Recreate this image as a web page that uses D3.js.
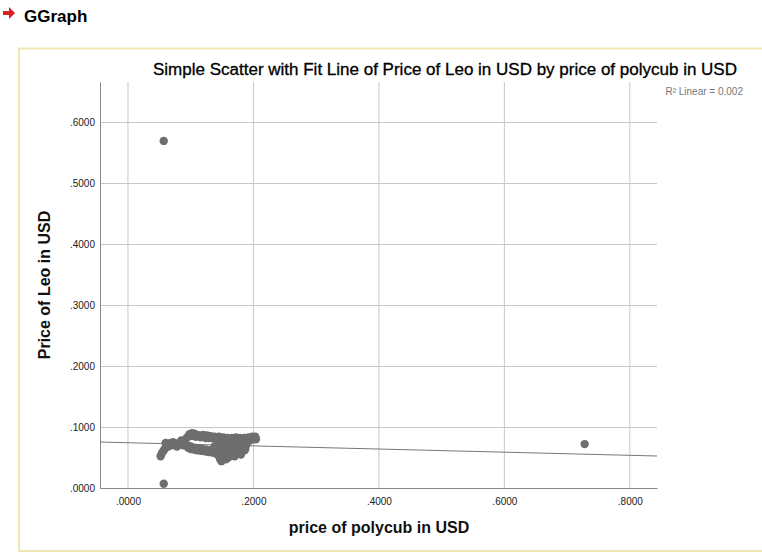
<!DOCTYPE html>
<html><head><meta charset="utf-8">
<script src="https://cdn.jsdelivr.net/npm/d3@7"></script>
<style>body{margin:0;background:#fff;}svg{display:block;font-family:"Liberation Sans",Arial,sans-serif;}</style>
</head><body><svg id="c" width="762" height="556"></svg>
<script>
const xTicks = [0, 0.2, 0.4, 0.6, 0.8];
const yTicks = [0, 0.1, 0.2, 0.3, 0.4, 0.5, 0.6];
const polycubPrice = [0.052,0.054,0.056,0.058,0.060,0.062,0.060,0.065,0.068,0.072,0.076,0.080,0.084,0.088,
 0.090,0.094,0.098,0.102,0.106,0.110,0.115,0.120,0.126,0.132,0.138,0.145,0.152,0.158,0.165,0.172,0.178,0.185,0.192,0.198,0.202,0.200,
 0.092,0.096,0.100,0.105,0.110,0.116,0.122,0.128,0.134,0.140,0.145,0.147,0.149,
 0.150,0.152,0.155,0.155,0.158,0.160,0.162,0.163,0.165,0.166,0.168,0.170,0.171,0.173,0.175,0.176,0.178,0.180,0.182,0.184,0.186,0.188,0.190,0.194,0.148,0.150,0.146,0.144,0.140,0.138,
 0.150,0.155,0.157,0.160,0.162,0.164,0.167,0.169,0.172,0.174,0.177,0.179,0.181,0.183,0.185,0.187,0.189,0.153,0.156,0.151,0.148,0.143,0.141,0.136,
 0.095,0.100,0.106,0.112,0.118,0.124,0.130,0.136,
 0.100,0.108,0.116,0.124,0.130,0.136,0.143,
 0.070,0.078,0.085,0.064,0.203,0.204,
 0.057,0.057,0.728];
const leoPrice = [0.052,0.057,0.060,0.063,0.066,0.070,0.074,0.072,0.074,0.075,0.073,0.072,0.074,0.070,
 0.078,0.083,0.088,0.090,0.089,0.087,0.086,0.087,0.086,0.085,0.084,0.084,0.083,0.082,0.082,0.083,0.082,0.082,0.083,0.084,0.082,0.080,
 0.070,0.066,0.064,0.063,0.062,0.061,0.060,0.059,0.058,0.057,0.052,0.047,0.044,
 0.060,0.065,0.070,0.075,0.055,0.050,0.062,0.068,0.078,0.072,0.058,0.052,0.065,0.075,0.080,0.060,0.070,0.055,0.066,0.074,0.062,0.070,0.075,0.078,0.070,0.078,0.064,0.058,0.062,0.068,
 0.082,0.058,0.066,0.074,0.080,0.056,0.064,0.070,0.058,0.068,0.076,0.062,0.072,0.078,0.068,0.064,0.072,0.050,0.047,0.055,0.060,0.068,0.056,0.060,
 0.070,0.068,0.066,0.065,0.064,0.063,0.062,0.062,
 0.085,0.084,0.083,0.082,0.082,0.081,0.080,
 0.070,0.068,0.078,0.068,0.084,0.080,
 0.569,0.007,0.072];
const fitIntercept = 0.0742;
const fitSlope = -0.0258;
const rSquared = "0.002";

const svg = d3.select("#c");
const x = d3.scaleLinear().domain([-0.0446, 0.8433]).range([100, 657]);
const y = d3.scaleLinear().domain([0, 0.6656]).range([488, 82]);
const fmt = v => d3.format(".4f")(v).replace(/^0/, "");

// frame
svg.append("rect").attr("x",19).attr("y",48.5).attr("width",760).attr("height",502.5)
  .attr("fill","none").attr("stroke","#f0e6b4").attr("stroke-width",2);

// header
svg.append("path").attr("d","M3,11 L9,11 L9,7 L15,13 L9,19 L9,15 L3,15 Z").attr("fill","#d81e1e");
svg.append("text").attr("x",24).attr("y",22).attr("font-size",17).attr("font-weight","bold").attr("fill","#000").text("GGraph");

// gridlines
svg.append("g").selectAll("line").data(xTicks).join("line")
  .attr("x1",d=>x(d)).attr("x2",d=>x(d)).attr("y1",82).attr("y2",488).attr("stroke","#c8c8c8");
svg.append("g").selectAll("line").data(yTicks).join("line")
  .attr("y1",d=>Math.round(y(d))+0.5).attr("y2",d=>Math.round(y(d))+0.5).attr("x1",100).attr("x2",657).attr("stroke","#c8c8c8");

// axes
const xAxis = svg.append("g").attr("transform","translate(0,488)")
  .call(d3.axisBottom(x).tickValues(xTicks).tickFormat(fmt).tickSize(0).tickPadding(10));
xAxis.select(".domain").attr("stroke","#888");
xAxis.selectAll("text").attr("font-size",10).attr("fill","#222").attr("font-family","Liberation Sans, Arial");
const yAxis = svg.append("g").attr("transform","translate(100,0)")
  .call(d3.axisLeft(y).tickValues(yTicks).tickFormat(fmt).tickSize(0).tickPadding(5));
yAxis.select(".domain").attr("stroke","#888");
yAxis.selectAll("text").attr("font-size",10).attr("fill","#222").attr("font-family","Liberation Sans, Arial");

// fit line
svg.append("line")
  .attr("x1",x(x.domain()[0])).attr("y1",y(fitIntercept+fitSlope*x.domain()[0]))
  .attr("x2",x(x.domain()[1])).attr("y2",y(fitIntercept+fitSlope*x.domain()[1]))
  .attr("stroke","#777").attr("stroke-width",1);

// points
svg.append("g").selectAll("circle").data(polycubPrice.map((v,i)=>[v,leoPrice[i]])).join("circle")
  .attr("cx",d=>x(d[0])).attr("cy",d=>y(d[1])).attr("r",4.2).attr("fill","#6e6e6e");

// titles
svg.append("text").attr("x",445).attr("y",75).attr("text-anchor","middle").attr("font-size",16).attr("font-weight","500")
  .attr("textLength",584).attr("lengthAdjust","spacingAndGlyphs").attr("fill","#000").attr("stroke","#000").attr("stroke-width",0.3)
  .text("Simple Scatter with Fit Line of Price of Leo in USD by price of polycub in USD");
svg.append("text").attr("x",743).attr("y",95).attr("text-anchor","end").attr("font-size",10).attr("fill","#777")
  .text("R² Linear = " + rSquared);
svg.append("text").attr("x",379).attr("y",533).attr("text-anchor","middle").attr("font-size",16).attr("font-weight","bold").attr("fill","#111")
  .text("price of polycub in USD");
svg.append("text").attr("transform","translate(50,285) rotate(-90)").attr("text-anchor","middle").attr("font-size",16).attr("font-weight","bold").attr("fill","#111")
  .text("Price of Leo in USD");
</script></body></html>
